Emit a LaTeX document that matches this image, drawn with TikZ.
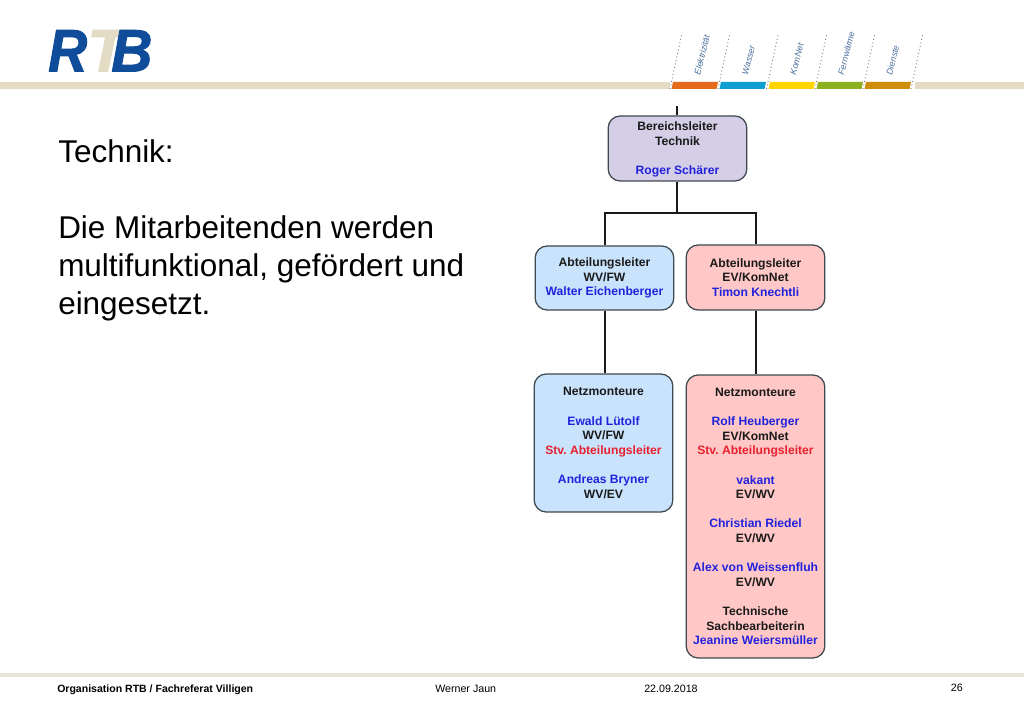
\documentclass[tikz,border=0pt]{standalone}
\usepackage{fontspec}
\setmainfont{Liberation Sans}
\newfontfamily\logofont[BoldItalicFeatures={FakeBold=1.6}]{Liberation Sans}
\frenchspacing
\definecolor{beige}{HTML}{E3DBC4}
\definecolor{footline}{HTML}{E9E5D6}
\definecolor{rtbblue}{HTML}{0F4C9A}
\definecolor{tabtext}{HTML}{4A6E9C}
\definecolor{purplebox}{HTML}{D5CEE7}
\definecolor{bluebox}{HTML}{C9E3FD}
\definecolor{pinkbox}{HTML}{FFC8C6}
\definecolor{boxline}{HTML}{3F4A50}
\definecolor{namecol}{HTML}{2222DD}
\definecolor{redcol}{HTML}{E8202F}
\definecolor{inkcol}{HTML}{1A1A1A}
\definecolor{tabA}{HTML}{E56A1B}
\definecolor{tabB}{HTML}{0E9FD0}
\definecolor{tabC}{HTML}{FFD400}
\definecolor{tabD}{HTML}{8DB01F}
\definecolor{tabE}{HTML}{CF8E0A}
\newcommand{\nm}[1]{\textcolor{namecol}{#1}}
\newcommand{\rd}[1]{\textcolor{redcol}{#1}}
\newcommand{\gp}{\\[10.95pt]}
\tikzset{
  x=0.75pt,y=-0.75pt,
  orgbox/.style={draw=boxline,line width=0.95pt,rounded corners=9pt,align=center,inner sep=0pt,
    text=inkcol,font=\fontsize{9.1pt}{10.95pt}\selectfont\bfseries,minimum width=104pt},
  conn/.style={draw=black!90,line width=1.5pt},
  tabbar/.style={line width=0pt},
  sep/.style={draw=gray,line width=0.7pt,dotted},
  tablabel/.style={rotate=76,anchor=west,inner sep=0pt,text=tabtext,font=\fontsize{6.6pt}{8pt}\selectfont\itshape},
  foot/.style={inner sep=0pt,anchor=base west,font=\fontsize{8pt}{10pt}\selectfont,text=black},
  logo/.style={inner sep=0pt,anchor=base west,font=\fontsize{45pt}{50pt}\logofont\bfseries\itshape}
}
\begin{document}
\begin{tikzpicture}
\useasboundingbox (0,0) rectangle (1024,709);
\fill[white] (0,0) rectangle (1024,709);
% top band
\fill[beige] (0,82) rectangle (670,89);
\fill[beige] (915,82) rectangle (1024,89);
\fill[footline] (0,673) rectangle (1024,677);
% logo
\node[logo,text=beige,xscale=1.05] (logoT) at (87,71.5) {T};
\node[logo,text=rtbblue,xscale=0.9] (logoR) at (48,71.5) {R};
\node[logo,text=rtbblue,xscale=0.95] (logoB) at (111,71.5) {B};
% coloured tabs
\fill[tabbar,fill=tabA] (673,82) -- (718,82) -- (716.5,89) -- (671.5,89) -- cycle;
\fill[tabbar,fill=tabB] (721,82) -- (766,82) -- (764.5,89) -- (719.5,89) -- cycle;
\fill[tabbar,fill=tabC] (770,82) -- (815,82) -- (813.5,89) -- (768.5,89) -- cycle;
\fill[tabbar,fill=tabD] (818,82) -- (863,82) -- (861.5,89) -- (816.5,89) -- cycle;
\fill[tabbar,fill=tabE] (866,82) -- (911,82) -- (909.5,89) -- (864.5,89) -- cycle;
\foreach \i/\a/\b in {1/670/682,2/718/730,3/766.5/778.5,4/815/827,5/863/875,6/911/923}{
  \coordinate (sb\i) at (\a,89);
  \coordinate (st\i) at (\b,33);
  \draw[sep] (sb\i) -- (st\i);
}
\node[tablabel] (tElek) at (697,75) {Elektrizität};
\node[tablabel] (tWass) at (745,75) {Wasser};
\node[tablabel] (tKomN) at (793,75) {KomNet};
\node[tablabel] (tFern) at (841,75) {Fernwärme};
\node[tablabel] (tDien) at (889,75) {Dienste};
% main text
\node[anchor=north west,inner sep=0pt,align=left,text=black,font=\fontsize{23.6pt}{28.5pt}\selectfont] (maintext) at (58,139)
  {Technik:\\[29pt]Die Mitarbeitenden werden\\multifunktional, gefördert und\\eingesetzt.};
% org boxes
\node[orgbox,fill=purplebox,minimum height=48.75pt] (bl) at (677.5,148.5)
  {\rule{0pt}{8.1pt}Bereichsleiter\\Technik\gp\nm{Roger Schärer}};
\node[orgbox,fill=bluebox,minimum height=48pt] (al) at (604.5,278)
  {Abteilungsleiter\\WV/FW\\\nm{Walter Eichenberger}};
\node[orgbox,fill=pinkbox,minimum height=48.75pt] (ar) at (755.5,277.5)
  {Abteilungsleiter\\EV/KomNet\\\nm{Timon Knechtli}};
\node[orgbox,fill=bluebox,minimum height=103.5pt] (nl) at (603.5,443)
  {Netzmonteure\gp\nm{Ewald Lütolf}\\WV/FW\\\rd{Stv. Abteilungsleiter}\gp\nm{Andreas Bryner}\\WV/EV};
\node[orgbox,fill=pinkbox,minimum height=212.25pt] (nr) at (755.5,516.5)
  {Netzmonteure\gp\nm{Rolf Heuberger}\\EV/KomNet\\\rd{Stv. Abteilungsleiter}\gp\nm{vakant}\\EV/WV\gp\nm{Christian Riedel}\\EV/WV\gp\nm{Alex von Weissenfluh}\\EV/WV\gp Technische\\Sachbearbeiterin\\\nm{Jeanine Weiersmüller}};
% connectors
\coordinate (topstub) at (676.5,106);
\coordinate (bus) at (676.5,213.5);
\draw[conn] (topstub) -- (topstub |- bl.north);
\draw[conn] (topstub |- bl.south) -- (bus);
\draw[conn] (al.north) -- (al.north |- bus) -- (ar.north |- bus) -- (ar.north);
\draw[conn] (al.south) -- (al.south |- nl.north);
\draw[conn] (ar.south) -- (nr.north);
% footer
\node[foot,font=\fontsize{7.9pt}{10pt}\selectfont\bfseries] (f1) at (57,692.5) {Organisation RTB / Fachreferat Villigen};
\node[foot] (f2) at (435,692.5) {Werner Jaun};
\node[foot] (f3) at (644,692.5) {22.09.2018};
\node[foot,anchor=base east] (f4) at (963,691.5) {26};
\end{tikzpicture}
\end{document}
